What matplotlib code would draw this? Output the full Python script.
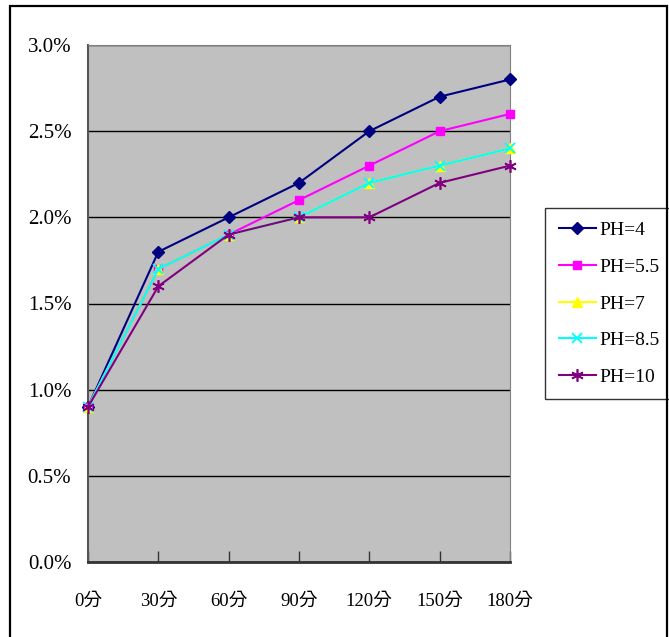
import matplotlib
matplotlib.use("Agg")
import matplotlib.pyplot as plt
from matplotlib.patches import Rectangle
from matplotlib.ticker import FuncFormatter, MultipleLocator

# Sampling times and measured values (%)
times = ["0分", "30分", "60分", "90分", "120分", "150分", "180分"]
ph4 = [0.9, 1.8, 2.0, 2.2, 2.5, 2.7, 2.8]
ph5_5 = [0.9, 1.7, 1.9, 2.1, 2.3, 2.5, 2.6]
ph7 = [0.9, 1.7, 1.9, 2.0, 2.2, 2.3, 2.4]
ph8_5 = [0.9, 1.7, 1.9, 2.0, 2.2, 2.3, 2.4]
ph10 = [0.9, 1.6, 1.9, 2.0, 2.0, 2.2, 2.3]
labels = ["PH=4", "PH=5.5", "PH=7", "PH=8.5", "PH=10"]

fonts = ["Liberation Serif", "Noto Sans CJK TC", "DejaVu Sans"]
plt.rcParams["font.family"] = fonts

fig = plt.figure(figsize=(6.69, 6.37), dpi=100)
ax = fig.add_axes([88 / 669, 1 - 562 / 637, (510 - 88) / 669, (562 - 45) / 637])
ax.set_facecolor("#C0C0C0")

# outer chart frame
fig.patches.append(Rectangle((10 / 669, -0.05), (667 - 10) / 669, (637 - 6) / 637 + 0.05,
                             transform=fig.transFigure, fill=False,
                             edgecolor="black", linewidth=1.6, zorder=0))

x = list(range(len(times)))
series = [ph4, ph5_5, ph7, ph8_5, ph10]
styles = [
    dict(color="#000080", marker="D", markersize=6),
    dict(color="#FF00FF", marker="s", markersize=6),
    dict(color="#FFFF00", marker="^", markersize=7),
    dict(color="#00FFFF", marker="x", markersize=7, markeredgewidth=1.3),
    dict(color="#800080", marker=(6, 2, 0), markersize=9, markeredgewidth=1.2),
]
for vals, lab, st in zip(series, labels, styles):
    ax.plot(x, vals, label=lab, linewidth=1.5, clip_on=False, zorder=3, **st)

ax.set_xlim(0, 6)
ax.set_ylim(0, 3.0)
ax.yaxis.set_major_locator(MultipleLocator(0.5))
ax.yaxis.set_major_formatter(FuncFormatter(lambda v, p: f"{v:.1f}%"))
ax.grid(axis="y", color="black", linewidth=1.0)
ax.set_axisbelow(True)

ax.set_xticks(x)
ax.set_xticklabels(times)
ax.tick_params(axis="x", direction="in", length=8, width=1, pad=22,
               labelsize=13.5, color="#333333")
ax.tick_params(axis="y", length=0, pad=12, labelsize=15)
for t in ax.get_yticklabels():
    t.set_family(fonts)
for t in ax.get_xticklabels():
    t.set_family(fonts)

ax.spines["top"].set_color("#808080")
ax.spines["right"].set_color("#808080")
ax.spines["left"].set_color("#555555")
ax.spines["bottom"].set_color("#333333")
ax.spines["bottom"].set_linewidth(2)
ax.spines["left"].set_linewidth(1.5)

leg = ax.legend(loc="upper left", bbox_to_anchor=(545 / 669, 1 - 208 / 637),
                bbox_transform=fig.transFigure, frameon=True, fancybox=False,
                edgecolor="black", prop={"family": fonts, "size": 14},
                handlelength=1.9, handletextpad=0.2, labelspacing=0.98,
                borderpad=0.7, borderaxespad=0)
leg.get_frame().set_linewidth(1.0)

fig.savefig("out.png", dpi=100, facecolor="white")
